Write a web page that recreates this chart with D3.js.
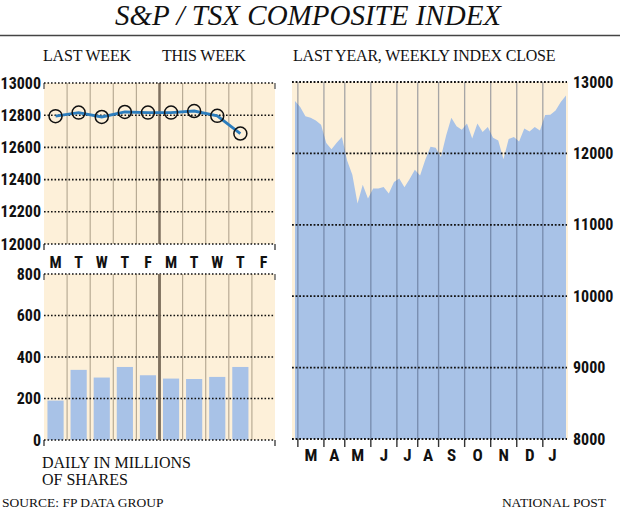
<!DOCTYPE html>
<html>
<head>
<meta charset="utf-8">
<script src="https://cdn.jsdelivr.net/npm/d3@7/dist/d3.min.js"></script>
<style>
  html, body { margin: 0; padding: 0; background: #fff; }
  svg { display: block; }
  .serif { font-family: "Liberation Serif", "DejaVu Serif", serif; fill: #111; }
  .sans { font-family: "Liberation Sans Narrow", "Roboto Condensed", "DejaVu Sans Condensed", Roboto, sans-serif; font-weight: bold; fill: #111; font-stretch: condensed; }
</style>
</head>
<body>
<svg id="chart" width="620" height="512"></svg>
<script>
// ---- DATA ----
const days = ["M", "T", "W", "T", "F", "M", "T", "W", "T", "F"];
const dailyClose = [12794, 12816, 12789, 12820, 12816, 12816, 12826, 12796, 12686];
const dailyVolume = [190, 338, 301, 352, 312, 296, 294, 304, 352];
const indexTicks = [12000, 12200, 12400, 12600, 12800, 13000];
const volumeTicks = [0, 200, 400, 600, 800];

const weeklyClose = [
  12735, 12650, 12520, 12498, 12460, 12400, 12145, 12057, 12150, 12230,
  11900, 11700, 11300, 11560, 11370, 11510, 11510, 11530, 11440, 11600,
  11650, 11525, 11640, 11770, 11690, 11910, 12094, 12080, 11950, 12250,
  12500, 12380, 12330, 12420, 12210, 12420, 12300, 12370, 12220, 12180,
  11917, 12200, 12230, 12165, 12350, 12305, 12370, 12320, 12538, 12540,
  12600, 12720, 12810
];
const months = ["M", "A", "M", "J", "J", "A", "S", "O", "N", "D", "J"];
const monthStartWeek = [1, 6, 10, 15, 20, 24, 28, 33, 38, 43, 48];
const yearTicks = [8000, 9000, 10000, 11000, 12000, 13000];

// ---- SETUP ----
const svg = d3.select("#chart");
const beige = "#fdf0d9";
const blue = "#a8c2e7";
const lineBlue = "#2c7dbd";

// Title
svg.append("text").attr("class", "serif")
  .attr("x", 308).attr("y", 25).attr("text-anchor", "middle")
  .style("font-size", "29px").style("font-style", "italic")
  .text("S&P / TSX COMPOSITE INDEX");
svg.append("line").attr("x1", 0).attr("x2", 620).attr("y1", 35.5).attr("y2", 35.5)
  .attr("stroke", "#444").attr("stroke-width", 1.5);

// Subheads
const sub = [["LAST WEEK", 43], ["THIS WEEK", 162], ["LAST YEAR, WEEKLY INDEX CLOSE", 293]];
svg.selectAll(".subhead").data(sub).enter().append("text")
  .attr("class", "serif subhead").attr("x", d => d[0] ? d[1] : 0).attr("y", 61)
  .style("font-size", "16px").style("letter-spacing", "-0.2px")
  .text(d => d[0]);

// ---- LEFT: scales ----
const xDay = d3.scaleBand().domain(d3.range(days.length)).range([44, 275]);
const yIdx = d3.scaleLinear().domain([12000, 13000]).range([244, 83]);
const yVol = d3.scaleLinear().domain([0, 800]).range([440, 274]);

function leftPanel(y, ticks) {
  const g = svg.append("g");
  const [y0, y1] = y.range();
  g.append("rect").attr("x", xDay.range()[0]).attr("y", y1)
    .attr("width", xDay.range()[1] - xDay.range()[0]).attr("height", y0 - y1)
    .attr("fill", beige);
  // vertical column lines
  d3.range(1, days.length).forEach(k => {
    const x = xDay(k);
    g.append("line").attr("x1", x).attr("x2", x).attr("y1", y1).attr("y2", y0)
      .attr("stroke", k === 5 ? "#7e705f" : "#b8ab95")
      .attr("stroke-width", k === 5 ? 2.5 : 1.2);
  });
  // edge ticks
  [xDay.range()[0], xDay.range()[1]].forEach(x => {
    g.append("line").attr("x1", x).attr("x2", x).attr("y1", y0).attr("y2", y0 + 6)
      .attr("stroke", "#333").attr("stroke-width", 1.3);
    g.append("line").attr("x1", x).attr("x2", x).attr("y1", y1).attr("y2", y1 + 6)
      .attr("stroke", "#555").attr("stroke-width", 1.3);
  });
  // axis
  const axis = d3.axisLeft(y).tickValues(ticks).tickSize(0).tickPadding(3).tickFormat(d3.format("d"));
  const ag = g.append("g").attr("transform", `translate(${xDay.range()[0]},0)`).call(axis);
  ag.select(".domain").remove();
  ag.selectAll("text").attr("class", "sans").style("font-size", "16px").attr("fill", "#111");
  // dotted gridlines
  g.selectAll(".grid").data(ticks).enter().append("line")
    .attr("x1", xDay.range()[0]).attr("x2", xDay.range()[1])
    .attr("y1", d => y(d)).attr("y2", d => y(d))
    .attr("stroke", "#111").attr("stroke-width", 1.6).attr("stroke-dasharray", "1.6,1.9");
  return g;
}

const gTop = leftPanel(yIdx, indexTicks);
const gBot = leftPanel(yVol, volumeTicks);

// Bars
const barW = xDay.bandwidth() * 0.7;
gBot.insert("g", "g").selectAll("rect").data(dailyVolume).enter().append("rect")
  .attr("x", (d, i) => xDay(i) + (xDay.bandwidth() - barW) / 2)
  .attr("y", d => yVol(d))
  .attr("width", barW)
  .attr("height", d => yVol(0) - yVol(d))
  .attr("fill", blue);
// redraw middle thick line over bars area
gBot.append("line").attr("x1", xDay(5)).attr("x2", xDay(5))
  .attr("y1", yVol.range()[1]).attr("y2", yVol.range()[0])
  .attr("stroke", "#7e705f").attr("stroke-width", 2.5);

// Line + circles
const line = d3.line().x((d, i) => xDay(i) + xDay.bandwidth() / 2).y(d => yIdx(d));
gTop.append("path").datum(dailyClose).attr("d", line)
  .attr("fill", "none").attr("stroke", lineBlue).attr("stroke-width", 2.8);
gTop.selectAll(".pt").data(dailyClose).enter().append("circle")
  .attr("cx", (d, i) => xDay(i) + xDay.bandwidth() / 2).attr("cy", d => yIdx(d))
  .attr("r", 6.5).attr("fill", "none").attr("stroke", "#111").attr("stroke-width", 1.5);

// Day labels
svg.selectAll(".day").data(days).enter().append("text")
  .attr("class", "sans day")
  .attr("x", (d, i) => xDay(i) + xDay.bandwidth() / 2).attr("y", 268)
  .attr("text-anchor", "middle").style("font-size", "16px")
  .text(d => d);

// ---- RIGHT: scales ----
const xW = d3.scaleLinear().domain([0, weeklyClose.length - 1]).range([295, 566]);
const yY = d3.scaleLinear().domain([8000, 13000]).range([439, 82]);
const gR = svg.append("g");
gR.append("rect").attr("x", 292).attr("y", yY(13000)).attr("width", 276)
  .attr("height", yY(8000) - yY(13000)).attr("fill", beige);
const area = d3.area().x((d, i) => xW(i)).y0(yY(8000)).y1(d => yY(d));
gR.append("path").datum(weeklyClose).attr("d", area).attr("fill", blue);

const monthX = monthStartWeek.map(w => xW(w - 0.45));
gR.selectAll(".mline").data(monthX).enter().append("line")
  .attr("x1", d => d).attr("x2", d => d)
  .attr("y1", yY(13000)).attr("y2", yY(8000))
  .attr("stroke", "#3c4a66").attr("stroke-opacity", 0.45).attr("stroke-width", 1.3);
gR.selectAll(".mtick").data(monthX).enter().append("line")
  .attr("x1", d => d).attr("x2", d => d)
  .attr("y1", yY(8000)).attr("y2", yY(8000) + 8)
  .attr("stroke", "#333").attr("stroke-width", 1.4);

gR.selectAll(".ygrid").data(yearTicks).enter().append("line")
  .attr("x1", 292).attr("x2", 567)
  .attr("y1", d => yY(d)).attr("y2", d => yY(d))
  .attr("stroke", "#111").attr("stroke-width", 1.8).attr("stroke-dasharray", "1.8,1.8");

const rAxis = d3.axisRight(yY).tickValues(yearTicks).tickSize(0).tickPadding(6).tickFormat(d3.format("d"));
const rag = gR.append("g").attr("transform", "translate(567,0)").call(rAxis);
rag.select(".domain").remove();
rag.selectAll("text").attr("class", "sans").style("font-size", "16px").attr("fill", "#111");

// Month labels
const monthMid = monthX.map((x, i) => (x + (i < monthX.length - 1 ? monthX[i + 1] : xW(weeklyClose.length - 1) - 4)) / 2);
gR.selectAll(".mlab").data(months).enter().append("text")
  .attr("class", "sans")
  .attr("x", (d, i) => monthMid[i]).attr("y", 461)
  .attr("text-anchor", "middle").style("font-size", "17px")
  .text(d => d);

// Footer
svg.append("text").attr("class", "serif").attr("x", 42).attr("y", 468)
  .style("font-size", "16px").text("DAILY IN MILLIONS");
svg.append("text").attr("class", "serif").attr("x", 42).attr("y", 485)
  .style("font-size", "16px").text("OF SHARES");
svg.append("text").attr("class", "serif").attr("x", 2).attr("y", 507)
  .style("font-size", "13.5px").text("SOURCE: FP DATA GROUP");
svg.append("text").attr("class", "serif").attr("x", 606).attr("y", 507)
  .attr("text-anchor", "end").style("font-size", "13.5px").text("NATIONAL POST");
</script>
</body>
</html>
